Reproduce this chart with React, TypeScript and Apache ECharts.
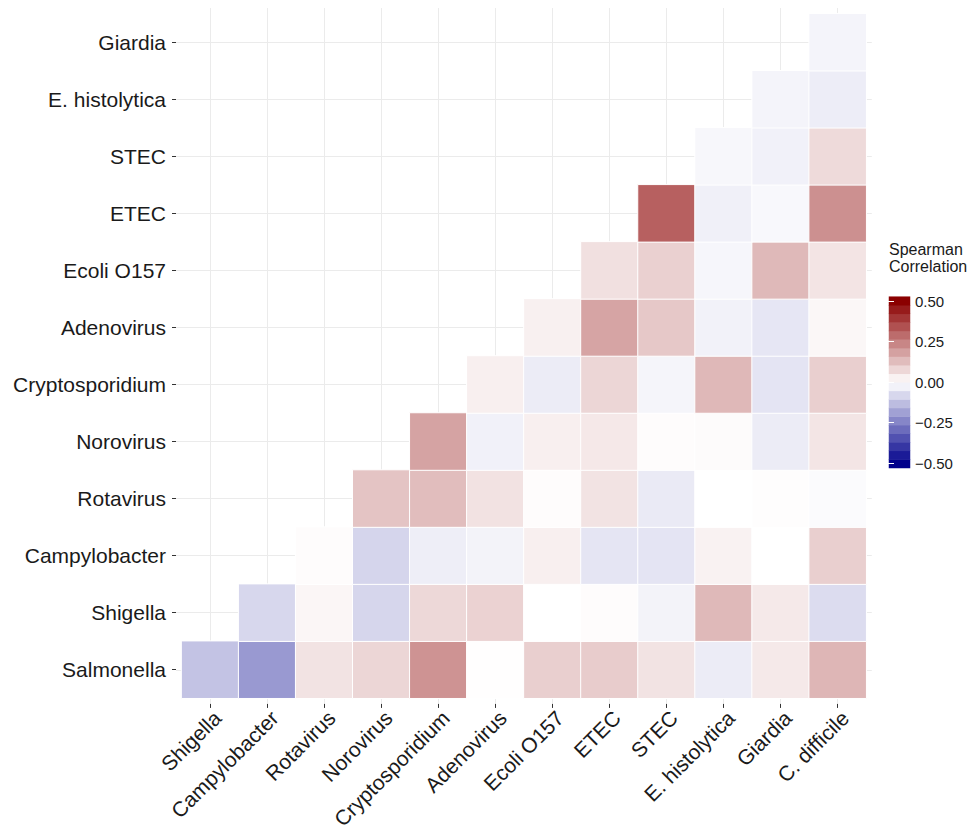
import React, { useEffect, useRef } from 'react';
import * as echarts from 'echarts';

const xCats = ['Shigella', 'Campylobacter', 'Rotavirus', 'Norovirus', 'Cryptosporidium', 'Adenovirus', 'Ecoli O157', 'ETEC', 'STEC', 'E. histolytica', 'Giardia', 'C. difficile'];
const yCats = ['Salmonella', 'Shigella', 'Campylobacter', 'Rotavirus', 'Norovirus', 'Cryptosporidium', 'Adenovirus', 'Ecoli O157', 'ETEC', 'STEC', 'E. histolytica', 'Giardia'];

// each row starts at the column with the same index as the row (lower triangle)
const rowSalmonella = [-0.118, -0.2, 0.055, 0.08, 0.212, 0.002, 0.094, 0.1, 0.055, -0.037, 0.043, 0.143];
const rowShigella = [-0.078, 0.018, -0.08, 0.076, 0.088, 0.0, 0.005, -0.024, 0.137, 0.043, -0.069];
const rowCampylobacter = [0.005, -0.082, -0.033, -0.024, 0.031, -0.051, -0.053, 0.025, 0.0, 0.094];
const rowRotavirus = [0.116, 0.129, 0.057, 0.005, 0.055, -0.041, 0.0, 0.004, -0.008];
const rowNorovirus = [0.18, -0.027, 0.031, 0.045, 0.005, 0.008, -0.037, 0.05];
const rowCryptosporidium = [0.031, -0.037, 0.08, -0.02, 0.139, -0.053, 0.094];
const rowAdenovirus = [0.03, 0.178, 0.108, -0.025, -0.049, 0.016];
const rowEcoliO157 = [0.06, 0.092, -0.018, 0.137, 0.053];
const rowETEC = [0.312, -0.029, -0.014, 0.218];
const rowSTEC = [-0.016, -0.027, 0.073];
const rowEhistolytica = [-0.022, -0.035];
const rowGiardia = [-0.022];

const rows = [rowSalmonella, rowShigella, rowCampylobacter, rowRotavirus, rowNorovirus, rowCryptosporidium, rowAdenovirus, rowEcoliO157, rowETEC, rowSTEC, rowEhistolytica, rowGiardia];

const legendBins = [-0.5, -0.447, -0.395, -0.342, -0.289, -0.237, -0.184, -0.132, -0.079, -0.026, 0.026, 0.079, 0.132, 0.184, 0.237, 0.289, 0.342, 0.395, 0.447, 0.5];
const legendMin = -0.5;
const legendMax = 0.5;
const legendStep = 0.25;

const FONT = '"Liberation Sans", Arial, Helvetica, sans-serif';
const TEXT = '#1a1a1a';
const GRIDLINE = '#EBEBEB';

export default function App() {
  const ref = useRef<HTMLDivElement>(null);
  useEffect(() => {
    const chart = echarts.init(ref.current as HTMLDivElement, null, { renderer: 'svg' });
    const data: any[] = [];
    rows.forEach((row, r) => row.forEach((v, k) => data.push([r + k, r, v])));
    const binData = legendBins.map((v, i) => [0, i, v]);

    const tileLeft = 181.6;
    const tileTop = 13.7;
    const cell = 57.05;
    const n = 12;

    const option: any = {
      animation: false,
      backgroundColor: '#ffffff',
      textStyle: { fontFamily: FONT },
      title: {
        text: 'Spearman\nCorrelation',
        left: 889,
        top: 241,
        padding: 0,
        textStyle: { fontSize: 16, fontWeight: 'normal', color: TEXT, lineHeight: 17, fontFamily: FONT },
      },
      grid: [
        { left: tileLeft, top: tileTop, width: cell * n, height: cell * n },
        { left: tileLeft + cell / 2, top: 8, width: cell * (n - 1), height: cell * n + 2 * (tileTop - 8) },
        { left: 176, top: tileTop + cell / 2, width: cell * n + 2 * (tileLeft - 176), height: cell * (n - 1) },
        { left: 889, top: 296.7, width: 21, height: 171.3 },
        { left: 889, top: 301, width: 21, height: 162.3 },
      ],
      xAxis: [
        {
          type: 'category',
          gridIndex: 0,
          data: xCats,
          offset: 5.7,
          axisLine: { show: false },
          axisTick: { show: true, alignWithLabel: true, length: 4, lineStyle: { color: '#333', width: 1 } },
          axisLabel: {
            interval: 0,
            rotate: 45,
            align: 'right',
            verticalAlign: 'top',
            margin: 3,
            fontSize: 21,
            color: TEXT,
            fontFamily: FONT,
          },
          splitLine: { show: false },
        },
        {
          type: 'value',
          gridIndex: 1,
          min: 0,
          max: 11,
          interval: 1,
          axisLine: { show: false },
          axisTick: { show: false },
          axisLabel: { show: false },
          splitLine: { show: true, lineStyle: { color: GRIDLINE, width: 1 } },
        },
        { type: 'value', gridIndex: 2, show: false },
        { type: 'category', gridIndex: 3, data: ['bar'], show: false },
        { type: 'value', gridIndex: 4, show: false },
      ],
      yAxis: [
        {
          type: 'category',
          gridIndex: 0,
          data: yCats,
          offset: 5.6,
          axisLine: { show: false },
          axisTick: { show: true, alignWithLabel: true, length: 4, lineStyle: { color: '#333', width: 1 } },
          axisLabel: { interval: 0, margin: 10, fontSize: 21, color: TEXT, fontFamily: FONT },
          splitLine: { show: false },
        },
        { type: 'value', gridIndex: 1, show: false },
        {
          type: 'value',
          gridIndex: 2,
          min: 0,
          max: 11,
          interval: 1,
          axisLine: { show: false },
          axisTick: { show: false },
          axisLabel: { show: false },
          splitLine: { show: true, lineStyle: { color: GRIDLINE, width: 1 } },
        },
        { type: 'category', gridIndex: 3, data: legendBins.map((_, i) => String(i)), show: false },
        {
          type: 'value',
          gridIndex: 4,
          position: 'right',
          min: legendMin,
          max: legendMax,
          interval: legendStep,
          z: 10,
          axisLine: { show: false },
          axisTick: { show: true, inside: true, length: 5, lineStyle: { color: '#ffffff', width: 1 } },
          axisLabel: {
            margin: 5,
            fontSize: 15,
            color: TEXT,
            fontFamily: FONT,
            formatter: (v: number) => v.toFixed(2).replace('-', '\u2212'),
          },
          splitLine: { show: false },
        },
        {
          type: 'value',
          gridIndex: 4,
          position: 'left',
          min: legendMin,
          max: legendMax,
          interval: legendStep,
          z: 10,
          axisLine: { show: false },
          axisTick: { show: true, inside: true, length: 5, lineStyle: { color: '#ffffff', width: 1 } },
          axisLabel: { show: false },
          splitLine: { show: false },
        },
      ],
      visualMap: {
        type: 'continuous',
        show: false,
        min: legendMin,
        max: legendMax,
        dimension: 2,
        seriesIndex: [0, 1],
        inRange: { color: ['#00008B', '#FFFFFF', '#8B0000'] },
      },
      series: [
        {
          type: 'heatmap',
          xAxisIndex: 0,
          yAxisIndex: 0,
          data,
          itemStyle: { borderColor: '#ffffff', borderWidth: 1 },
          emphasis: { disabled: true },
          z: 2,
        },
        {
          type: 'heatmap',
          xAxisIndex: 3,
          yAxisIndex: 3,
          data: binData,
          emphasis: { disabled: true },
          z: 2,
        },
      ],
    };
    chart.setOption(option);
    return () => chart.dispose();
  }, []);
  return (
    <div
      ref={ref}
      style={{ position: 'fixed', left: 0, top: 0, width: 971, height: 832, background: '#ffffff' }}
    />
  );
}
